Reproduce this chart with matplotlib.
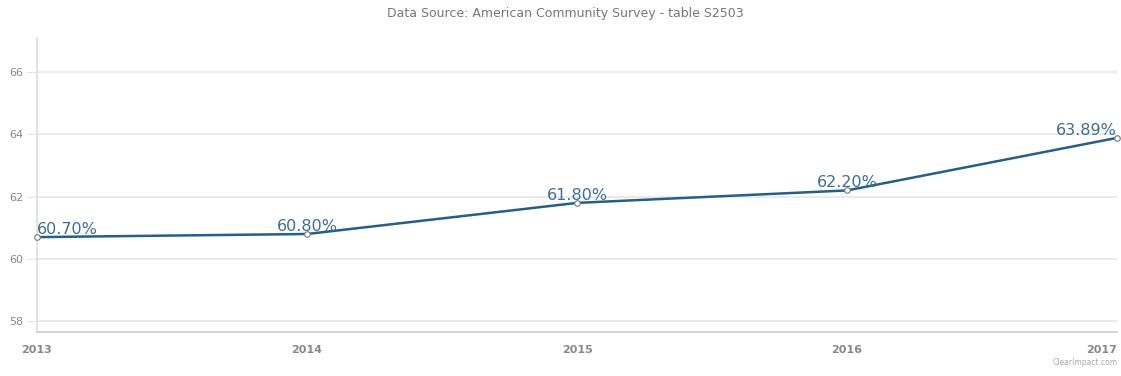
import matplotlib
matplotlib.use('Agg')
import matplotlib.pyplot as plt

years = [2013, 2014, 2015, 2016, 2017]
values = [60.70, 60.80, 61.80, 62.20, 63.89]
labels = ['60.70%', '60.80%', '61.80%', '62.20%', '63.89%']
yticks = [58, 60, 62, 64, 66]

C_LINE = '#255f88'
C_LABEL = '#3b6e98'
C_GRID = '#e6e6e6'
C_TEXT = '#888888'

fig = plt.figure(figsize=(11.21, 3.76), dpi=100)
ax = fig.add_axes([0.033, 0.117, 0.9635, 0.782])

ax.plot(years, values, color=C_LINE, lw=1.8, zorder=3,
        marker='o', markersize=4, markerfacecolor='white',
        markeredgecolor='#777777', markeredgewidth=0.8, clip_on=False)

ax.set_xlim(2013, 2017)
ax.set_ylim(57.65, 67.1)
ax.set_yticks(yticks)
ax.set_xticks(years)
ax.grid(axis='y', color=C_GRID, lw=1.2)
ax.set_axisbelow(True)

for s in ['top', 'right']:
    ax.spines[s].set_visible(False)
ax.spines['left'].set_color('#dddddd')
ax.spines['bottom'].set_color('#cccccc')
ax.spines['left'].set_linewidth(1.2)
ax.spines['bottom'].set_linewidth(1.2)

ax.tick_params(axis='y', length=8, color=C_GRID, labelsize=8,
               labelcolor=C_TEXT, pad=2)
ax.tick_params(axis='x', length=0, labelsize=8, labelcolor=C_TEXT, pad=9)
xt = ax.get_xticklabels()
for t in xt:
    t.set_fontweight('bold')
xt[-1].set_horizontalalignment('right')

for i, (x, y, lab) in enumerate(zip(years, values, labels)):
    ha = 'center'
    if i == 0:
        ha = 'left'
    elif i == len(years) - 1:
        ha = 'right'
    ax.annotate(lab, (x, y), xytext=(0, 0), textcoords='offset points',
                ha=ha, va='bottom', fontsize=11.5, color=C_LABEL, zorder=4)

fig.text(0.504, 0.963, 'Data Source: American Community Survey - table S2503',
         ha='center', va='center', fontsize=9, color='#777777')
fig.text(0.997, 0.035, 'ClearImpact.com', ha='right', va='center',
         fontsize=5.5, color='#aaaaaa')

fig.savefig('out.png', dpi=100, facecolor='white')
